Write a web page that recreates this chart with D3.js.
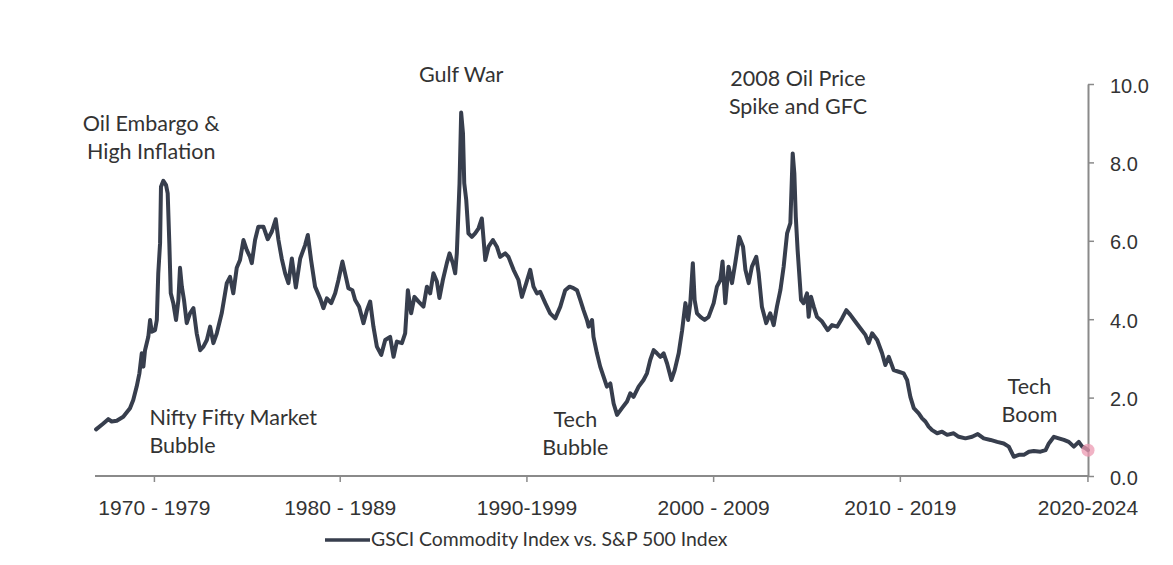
<!DOCTYPE html>
<html>
<head>
<meta charset="utf-8">
<script src="https://cdn.jsdelivr.net/npm/d3@7"></script>
<style>
  html, body { margin: 0; padding: 0; background: #ffffff; }
  svg { display: block; font-family: Lato, "Open Sans", sans-serif; }
</style>
</head>
<body>
<svg id="chart" width="1173" height="565"></svg>
<script>
// GSCI Commodity Index relative to the S&P 500 Index (ratio), monthly-ish samples
const years = [
  1970.06, 1970.46, 1970.73, 1970.92, 1971.20, 1971.56, 1971.93, 1972.11, 1972.30, 1972.45,
  1972.58, 1972.67, 1972.76, 1972.94, 1973.04, 1973.13, 1973.31, 1973.41, 1973.49, 1973.59,
  1973.64, 1973.77, 1973.92, 1974.01, 1974.10, 1974.18, 1974.32, 1974.47, 1974.60, 1974.69,
  1974.79, 1974.91, 1975.06, 1975.24, 1975.43, 1975.61, 1975.80, 1975.98, 1976.17, 1976.35,
  1976.53, 1976.72, 1976.99, 1977.27, 1977.45, 1977.63, 1977.82, 1978.00, 1978.19, 1978.37,
  1978.55, 1978.65, 1978.83, 1979.01, 1979.29, 1979.53, 1979.75, 1979.97, 1980.12, 1980.30,
  1980.49, 1980.67, 1980.86, 1981.08, 1981.32, 1981.59, 1981.74, 1981.92, 1982.14, 1982.42,
  1982.60, 1982.79, 1983.03, 1983.25, 1983.43, 1983.65, 1983.84, 1983.98, 1984.20, 1984.35,
  1984.57, 1984.81, 1985.00, 1985.18, 1985.36, 1985.55, 1985.79, 1986.01, 1986.28, 1986.47,
  1986.65, 1986.93, 1987.11, 1987.26, 1987.44, 1987.62, 1987.85, 1988.12, 1988.31, 1988.49,
  1988.67, 1988.86, 1989.00, 1989.19, 1989.41, 1989.56, 1989.74, 1989.87, 1989.96, 1990.11,
  1990.20, 1990.30, 1990.37, 1990.48, 1990.60, 1990.79, 1990.97, 1991.16, 1991.34, 1991.53,
  1991.71, 1991.95, 1992.17, 1992.35, 1992.63, 1992.81, 1993.09, 1993.36, 1993.55, 1993.79,
  1994.01, 1994.19, 1994.38, 1994.56, 1994.84, 1995.11, 1995.39, 1995.67, 1995.94, 1996.18,
  1996.40, 1996.59, 1996.77, 1996.95, 1997.14, 1997.23, 1997.42, 1997.50, 1997.69, 1997.87,
  1998.06, 1998.24, 1998.43, 1998.61, 1998.80, 1999.07, 1999.35, 1999.53, 1999.71, 1999.99,
  2000.26, 2000.45, 2000.63, 2000.82, 2001.00, 2001.19, 2001.37, 2001.56, 2001.80, 2001.98,
  2002.20, 2002.39, 2002.57, 2002.72, 2002.84, 2002.98, 2003.08, 2003.21, 2003.40, 2003.63,
  2003.85, 2004.13, 2004.31, 2004.50, 2004.62, 2004.77, 2004.95, 2005.14, 2005.32, 2005.54,
  2005.75, 2005.88, 2006.06, 2006.24, 2006.48, 2006.61, 2006.79, 2007.03, 2007.25, 2007.44,
  2007.62, 2007.81, 2007.99, 2008.18, 2008.36, 2008.49, 2008.58, 2008.66, 2008.76, 2008.95,
  2009.09, 2009.28, 2009.37, 2009.50, 2009.65, 2009.83, 2010.11, 2010.42, 2010.66, 2010.94,
  2011.21, 2011.45, 2011.67, 2011.94, 2012.22, 2012.50, 2012.68, 2012.87, 2013.15, 2013.42,
  2013.60, 2013.79, 2014.06, 2014.34, 2014.61, 2014.80, 2014.98, 2015.17, 2015.44, 2015.63,
  2015.81, 2015.99, 2016.18, 2016.46, 2016.73, 2017.01, 2017.37, 2017.65, 2018.02, 2018.39,
  2018.70, 2019.03, 2019.40, 2019.77, 2020.13, 2020.41, 2020.69, 2020.97, 2021.24, 2021.52,
  2021.79, 2022.16, 2022.44, 2022.62, 2022.90, 2023.17, 2023.45, 2023.72, 2024.00, 2024.27,
  2024.46, 2024.64, 2024.78
];

const ratio = [
  1.19, 1.34, 1.45, 1.39, 1.41, 1.51, 1.73, 1.94, 2.28, 2.62,
  3.13, 2.79, 3.21, 3.55, 3.98, 3.68, 3.72, 3.98, 5.17, 5.94,
  7.38, 7.53, 7.42, 7.21, 5.94, 4.66, 4.41, 3.98, 4.49, 5.31,
  4.83, 4.49, 3.90, 4.15, 4.28, 3.64, 3.21, 3.30, 3.47, 3.81,
  3.39, 3.64, 4.15, 4.92, 5.08, 4.66, 5.31, 5.51, 6.02, 5.77,
  5.59, 5.43, 6.02, 6.36, 6.36, 6.04, 6.23, 6.55, 6.02, 5.55,
  5.17, 4.92, 5.55, 4.81, 5.55, 5.89, 6.15, 5.51, 4.83, 4.53,
  4.28, 4.53, 4.41, 4.66, 5.00, 5.47, 5.08, 4.79, 4.74, 4.49,
  4.32, 3.90, 4.23, 4.45, 3.81, 3.30, 3.09, 3.47, 3.55, 3.04,
  3.43, 3.39, 3.64, 4.74, 4.15, 4.57, 4.45, 4.32, 4.83, 4.66,
  5.17, 4.96, 4.54, 5.00, 5.43, 5.68, 5.43, 5.17, 5.68, 7.47,
  9.27, 8.74, 7.47, 7.04, 6.19, 6.10, 6.19, 6.32, 6.57, 5.51,
  5.85, 6.02, 5.85, 5.59, 5.68, 5.59, 5.26, 5.00, 4.57, 4.92,
  5.26, 4.83, 4.66, 4.70, 4.41, 4.15, 4.02, 4.32, 4.74, 4.83,
  4.79, 4.74, 4.49, 4.23, 3.98, 3.81, 3.98, 3.55, 3.13, 2.79,
  2.53, 2.28, 2.36, 1.85, 1.56, 1.73, 1.90, 2.11, 2.02, 2.28,
  2.45, 2.62, 2.96, 3.21, 3.13, 3.04, 3.13, 2.87, 2.45, 2.70,
  3.13, 3.72, 4.41, 3.98, 4.41, 5.43, 4.49, 4.15, 4.06, 3.98,
  4.06, 4.41, 4.83, 5.00, 5.47, 4.41, 5.34, 4.92, 5.43, 6.10,
  5.85, 5.26, 4.92, 5.34, 5.59, 5.17, 4.32, 3.90, 4.15, 3.85,
  4.32, 4.74, 5.34, 6.19, 6.45, 8.23, 7.72, 6.61, 5.77, 4.49,
  4.41, 4.66, 4.06, 4.57, 4.32, 4.06, 3.94, 3.72, 3.85, 3.81,
  4.02, 4.23, 4.11, 3.94, 3.77, 3.60, 3.39, 3.64, 3.47, 3.13,
  2.83, 3.04, 2.70, 2.66, 2.62, 2.45, 2.02, 1.73, 1.60, 1.47,
  1.39, 1.26, 1.17, 1.09, 1.13, 1.05, 1.09, 1.00, 0.96, 1.00,
  1.07, 0.96, 0.92, 0.87, 0.83, 0.75, 0.49, 0.54, 0.54, 0.62,
  0.64, 0.62, 0.66, 0.83, 1.00, 0.96, 0.92, 0.87, 0.75, 0.87,
  0.75, 0.71, 0.66
];

// Category labels along the bottom and where each one sits on the time axis
const periodLabels = ["1970 - 1979", "1980 - 1989", "1990-1999", "2000 - 2009", "2010 - 2019", "2020-2024"];
const periodTicks = [1973.25, 1983.5, 1993.8, 2004.1, 2014.4, 2024.75];

const yTicks = [0, 2, 4, 6, 8, 10];

// Event annotations: text lines, anchor year / value, alignment
const eventLines = [
  ["Oil Embargo &", "High Inflation"],
  ["Gulf War"],
  ["2008 Oil Price", "Spike and GFC"],
  ["Nifty Fifty Market", "Bubble"],
  ["Tech", "Bubble"],
  ["Tech", "Boom"]
];
const eventYear = [1973.1, 1990.2, 2008.78, 1973.0, 1996.5, 2021.55];
const eventValue = [8.8, 10.05, 9.96, 1.3, 1.26, 2.08];
const eventAnchor = ["middle", "middle", "middle", "start", "middle", "middle"];

const seriesName = "GSCI Commodity Index vs. S&P 500 Index";

const W = 1173, H = 565;
const margin = { top: 84, right: 85, bottom: 89, left: 95 };
const lineColor = "#373e4d";
const textColor = "#333333";
const axisColor = "#8a8a8a";

const svg = d3.select("#chart");

const x = d3.scaleLinear()
  .domain([1970, 2024.78])
  .range([margin.left, W - margin.right]);

const y = d3.scaleLinear()
  .domain([0, 10])
  .range([H - margin.bottom, margin.top]);

// Bottom axis with period labels
const xAxis = d3.axisBottom(x)
  .tickValues(periodTicks)
  .tickFormat((d, i) => periodLabels[i])
  .tickSizeInner(6)
  .tickSizeOuter(0)
  .tickPadding(18);

const gx = svg.append("g")
  .attr("transform", `translate(0,${y(0)})`)
  .call(xAxis);
gx.select(".domain").attr("stroke", axisColor).attr("stroke-width", 2)
  .attr("d", `M${x.range()[0]},0H${x.range()[1]}`);
gx.selectAll(".tick line").attr("stroke", axisColor).attr("stroke-width", 1.5);
gx.selectAll(".tick text")
  .attr("fill", textColor)
  .style("font-size", "21px");

// Right-hand value axis
const yAxis = d3.axisRight(y)
  .tickValues(yTicks)
  .tickFormat(d3.format(".1f"))
  .tickSizeInner(6)
  .tickSizeOuter(0)
  .tickPadding(16);

const gy = svg.append("g")
  .attr("transform", `translate(${x.range()[1]},0)`)
  .call(yAxis);
gy.select(".domain").attr("stroke", axisColor).attr("stroke-width", 2);
gy.selectAll(".tick line").attr("stroke", axisColor).attr("stroke-width", 1.5);
gy.selectAll(".tick text")
  .attr("fill", textColor)
  .attr("dy", "0.4em")
  .style("font-size", "20px");

// The ratio line
const series = years.map((yr, i) => ({ yr, v: ratio[i] }));
const line = d3.line()
  .x(d => x(d.yr))
  .y(d => y(d.v));

svg.append("path")
  .datum(series)
  .attr("fill", "none")
  .attr("stroke", lineColor)
  .attr("stroke-width", 4)
  .attr("stroke-linejoin", "round")
  .attr("stroke-linecap", "round")
  .attr("d", line);

// Latest reading highlighted
const last = series[series.length - 1];
svg.append("circle")
  .attr("cx", x(last.yr))
  .attr("cy", y(last.v))
  .attr("r", 6.5)
  .attr("fill", "#ec9ab2")
  .attr("fill-opacity", 0.75);

// Event annotations
const lineGap = 28;
eventLines.forEach((lines, i) => {
  const t = svg.append("text")
    .attr("x", x(eventYear[i]))
    .attr("y", y(eventValue[i]))
    .attr("text-anchor", eventAnchor[i])
    .attr("fill", textColor)
    .style("font-size", "21.5px");
  lines.forEach((s, j) => {
    t.append("tspan")
      .attr("x", x(eventYear[i]))
      .attr("dy", j === 0 ? 0 : lineGap)
      .text(s);
  });
});

// Legend
const legendY = 540;
svg.append("line")
  .attr("x1", 325).attr("x2", 370)
  .attr("y1", legendY).attr("y2", legendY)
  .attr("stroke", lineColor)
  .attr("stroke-width", 3.5);
svg.append("text")
  .attr("x", 371)
  .attr("y", legendY + 6)
  .attr("fill", textColor)
  .style("font-size", "19.4px")
  .text(seriesName);
</script>
</body>
</html>
